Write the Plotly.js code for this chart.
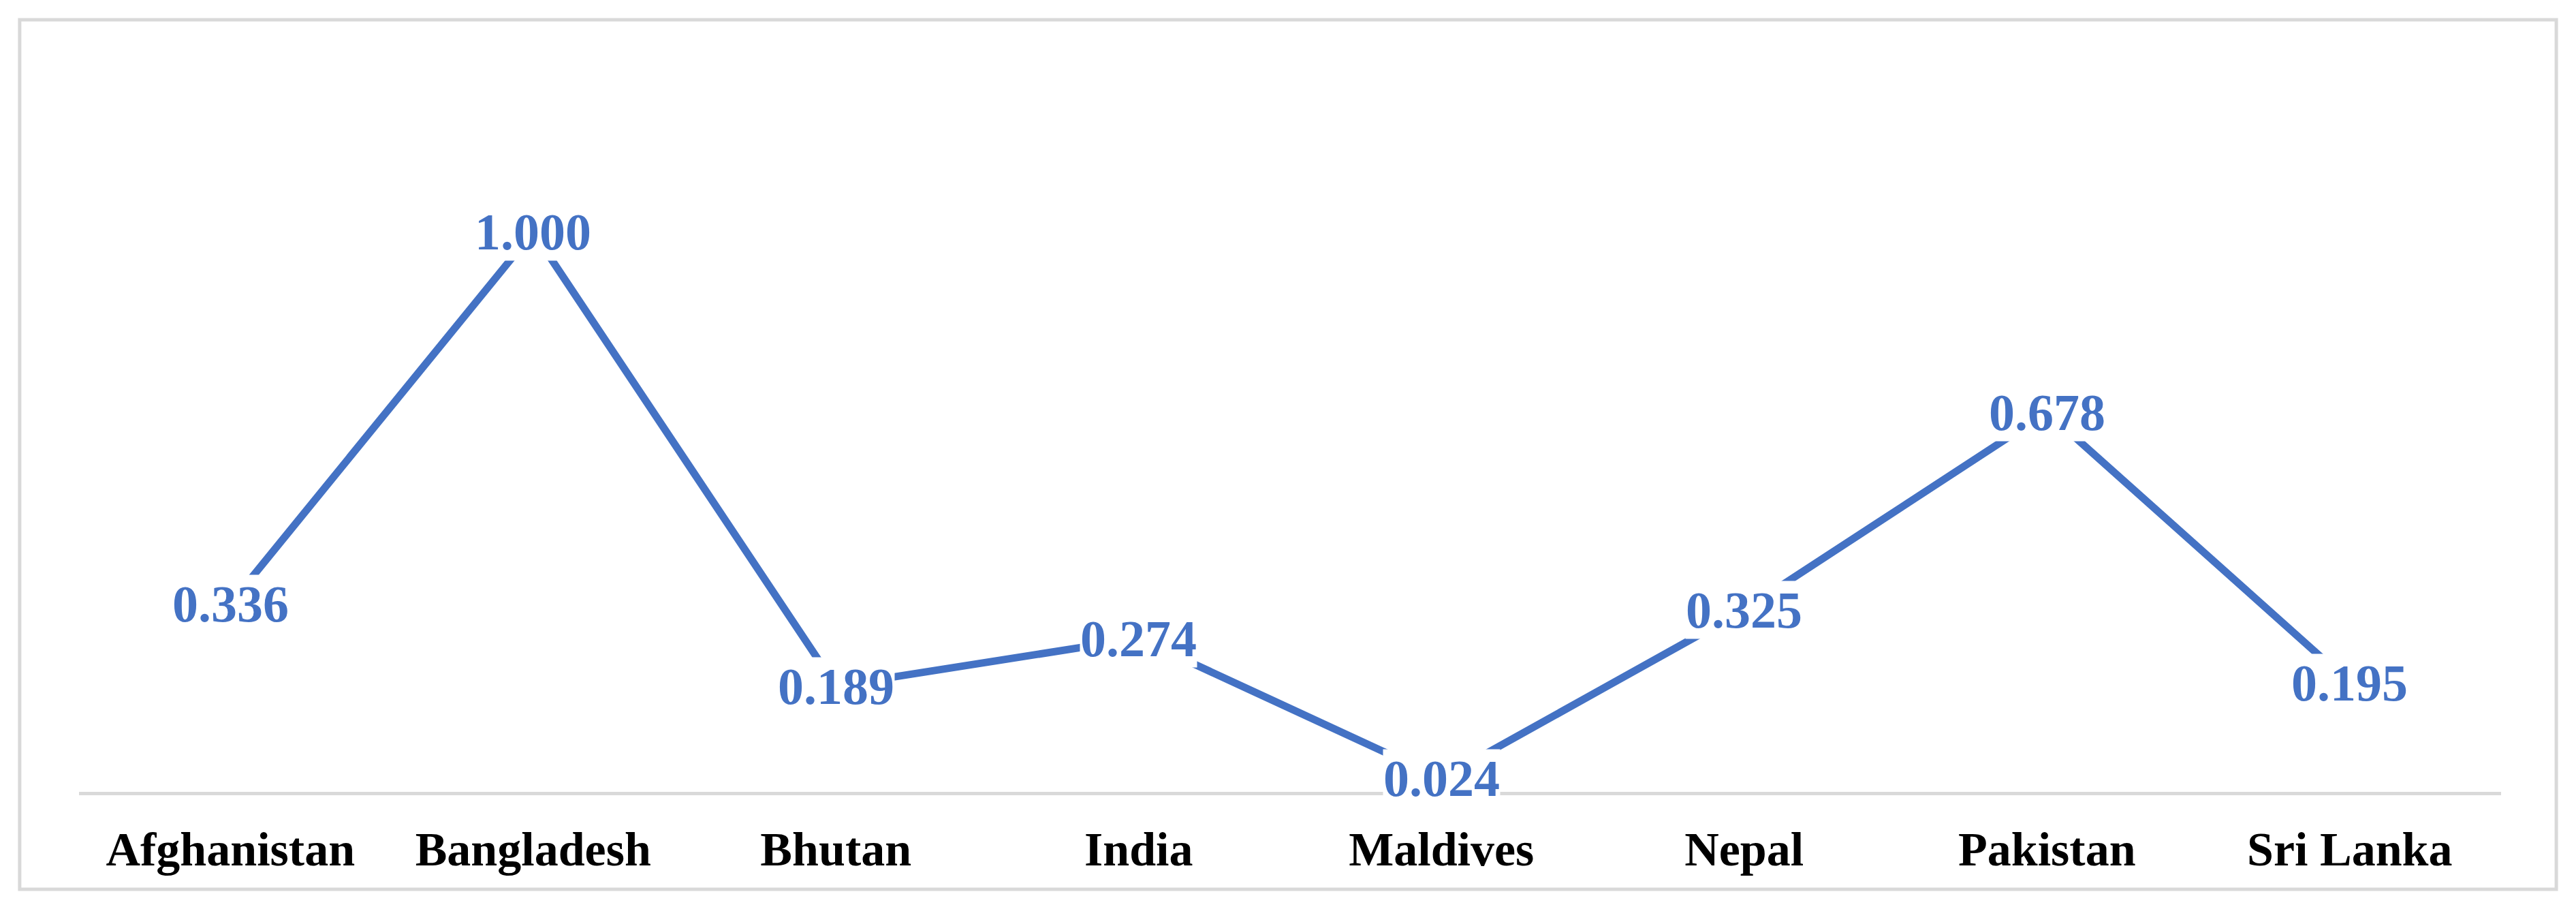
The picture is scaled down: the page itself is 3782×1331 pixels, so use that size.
<!DOCTYPE html>
<html>
<head>
<meta charset="utf-8">
<script src="https://cdn.plot.ly/plotly-3.0.1.min.js"></script>
<style>
  html, body { margin: 0; padding: 0; background: #fff; }
  #chart { width: 3782px; height: 1331px; }
</style>
</head>
<body>
<div id="chart"></div>
<script>
const countries = ['Afghanistan', 'Bangladesh', 'Bhutan', 'India', 'Maldives', 'Nepal', 'Pakistan', 'Sri Lanka'];
const scores = [0.336, 1.000, 0.189, 0.274, 0.024, 0.325, 0.678, 0.195];

const LINE_BLUE = '#4472C4';
const GREY = '#d9d9d9';
const SERIF = 'Liberation Serif, Times New Roman, serif';

const trace = {
    x: countries,
    y: scores,
    type: 'scatter',
    mode: 'lines',
    line: { color: LINE_BLUE, width: 11 },
    hoverinfo: 'skip',
};

// value labels sit on the points, white box hides the line underneath
const labels = countries.map((c, i) => ({
    x: c,
    y: scores[i],
    xref: 'x', yref: 'y',
    text: scores[i].toFixed(3),
    showarrow: false,
    xanchor: 'center', yanchor: 'middle',
    bgcolor: '#ffffff',
    borderpad: 0,
    font: { family: SERIF, size: 76, color: LINE_BLUE, weight: 'bold' },
}));

const layout = {
    width: 3782,
    height: 1331,
    paper_bgcolor: '#ffffff',
    plot_bgcolor: '#ffffff',
    margin: { t: 176, r: 110, b: 169, l: 116 },
    showlegend: false,
    xaxis: {
        type: 'category',
        range: [-0.5, countries.length - 0.5],
        showgrid: false,
        zeroline: false,
        showline: true,
        linecolor: GREY,
        linewidth: 5,
        ticks: '',
        ticklabelstandoff: 19,
        tickfont: { family: SERIF, size: 70, color: '#000000', weight: 'bold' },
    },
    yaxis: {
        range: [0, 1.2],
        visible: false,
        showgrid: false,
        zeroline: false,
    },
    annotations: labels,
    shapes: [{
        type: 'rect',
        xref: 'paper', yref: 'paper',
        x0: -0.0245, x1: 1.0228,
        y0: -0.1450, y1: 1.1491,
        line: { color: GREY, width: 5 },
        layer: 'below',
    }],
};

Plotly.newPlot('chart', [trace], layout, { displayModeBar: false, staticPlot: true });
</script>
</body>
</html>
